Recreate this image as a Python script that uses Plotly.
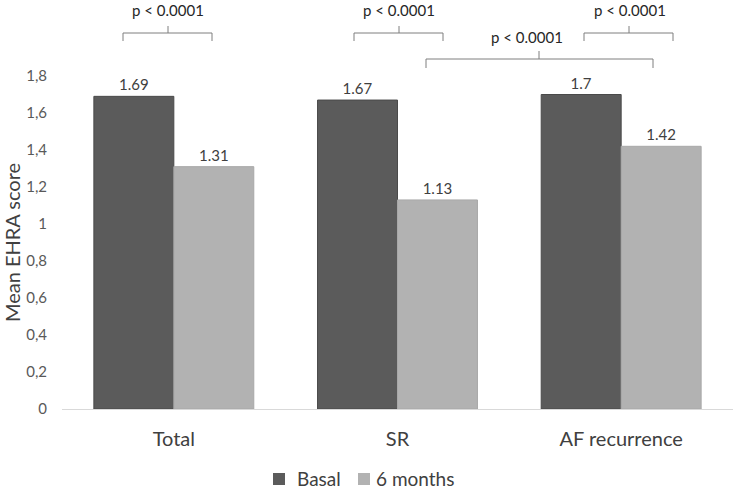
import plotly.graph_objects as go

categories = ["Total", "SR", "AF recurrence"]
basal = [1.69, 1.67, 1.7]
six_months = [1.31, 1.13, 1.42]
basal_labels = ["1.69", "1.67", "1.7"]
six_labels = ["1.31", "1.13", "1.42"]
series_names = ["Basal", "6 months"]
series_colors = ["#5b5b5b", "#b2b2b2"]
ytick_vals = [0, 0.2, 0.4, 0.6, 0.8, 1.0, 1.2, 1.4, 1.6, 1.8]
ytick_text = ["0", "0,2", "0,4", "0,6", "0,8", "1", "1,2", "1,4", "1,6", "1,8"]
p_text = "p < 0.0001"

W, H = 735, 489
L, R, T, B = 62, 2, 76, 80
PW, PH = W - L - R, H - T - B

def px(x):
    return (x - L) / PW

def py(y):
    return (H - B - y) / PH

FONT = "Lato, 'Open Sans', sans-serif"
TXT = "#404040"

fig = go.Figure()
for name, vals, labs, col, lc in zip(series_names, [basal, six_months],
                                      [basal_labels, six_labels], series_colors,
                                      ["#4a4a4a", "#a8a8a8"]):
    fig.add_trace(go.Bar(
        x=categories, y=vals, name=name,
        marker=dict(color=col, line=dict(color=lc, width=1)),
        text=labs, textposition="outside",
        textfont=dict(size=15, color=TXT, family=FONT), cliponaxis=False,
        showlegend=False,
    ))

# significance brackets (pixel layout -> paper coords)
brackets = [
    # left, right, center, y_horiz, y_ends, y_tick, text_x, text_y
    (123, 212, 168, 33, 41, 26, 168, 10),
    (354, 443, 399, 33, 41, 26, 399, 10),
    (584, 673, 629, 33, 41, 26, 630, 10),
    (426, 653, 539, 59, 68, 51, 527, 37),
]
for l, r, c, yh, ye, yt, tx, ty in brackets:
    path = (f"M {px(l)},{py(ye)} L {px(l)},{py(yh)} L {px(r)},{py(yh)} L {px(r)},{py(ye)} "
            f"M {px(c)},{py(yh)} L {px(c)},{py(yt)}")
    fig.add_shape(type="path", path=path, xref="paper", yref="paper",
                  line=dict(color="#7f7f7f", width=1))
    fig.add_annotation(x=px(tx), y=py(ty), xref="paper", yref="paper",
                       text=p_text, showarrow=False,
                       font=dict(size=15, color="#262626", family=FONT),
                       xanchor="center", yanchor="middle")

# legend drawn manually (squares + labels)
legend_items = [(273, 295), (358, 374)]
for (sx, tx), name, col in zip(legend_items, series_names, series_colors):
    fig.add_shape(type="rect", xref="paper", yref="paper",
                  x0=px(sx), x1=px(sx + 12), y0=py(485), y1=py(473),
                  fillcolor=col, line=dict(width=0))
    fig.add_annotation(x=px(tx), y=py(478), xref="paper", yref="paper",
                       text=name, showarrow=False, xanchor="left", yanchor="middle",
                       font=dict(size=19, color=TXT, family=FONT))

fig.update_layout(
    width=W, height=H,
    margin=dict(l=L, r=R, t=T, b=B),
    paper_bgcolor="white", plot_bgcolor="white",
    barmode="group", bargap=0.285, bargroupgap=0,
    font=dict(family=FONT, color=TXT),
    showlegend=False,
)
fig.update_xaxes(
    range=[-0.5, 2.5], showline=True, linecolor="#d9d9d9", linewidth=1,
    showgrid=False, ticks="", tickfont=dict(size=20, color=TXT, family=FONT),
    ticklabelstandoff=12, automargin=False,
)
fig.update_yaxes(
    range=[0, 1.8], tickvals=ytick_vals, ticktext=ytick_text,
    showgrid=False, showline=False, zeroline=False, ticks="",
    tickfont=dict(size=15, color="#595959", family=FONT), ticklabelstandoff=14,
    title=dict(text="Mean EHRA score", font=dict(size=20, color=TXT, family=FONT), standoff=4),
    automargin=False,
)

fig.write_html("out.html", config={"displayModeBar": False},
               post_script="document.body.style.margin='0';")
